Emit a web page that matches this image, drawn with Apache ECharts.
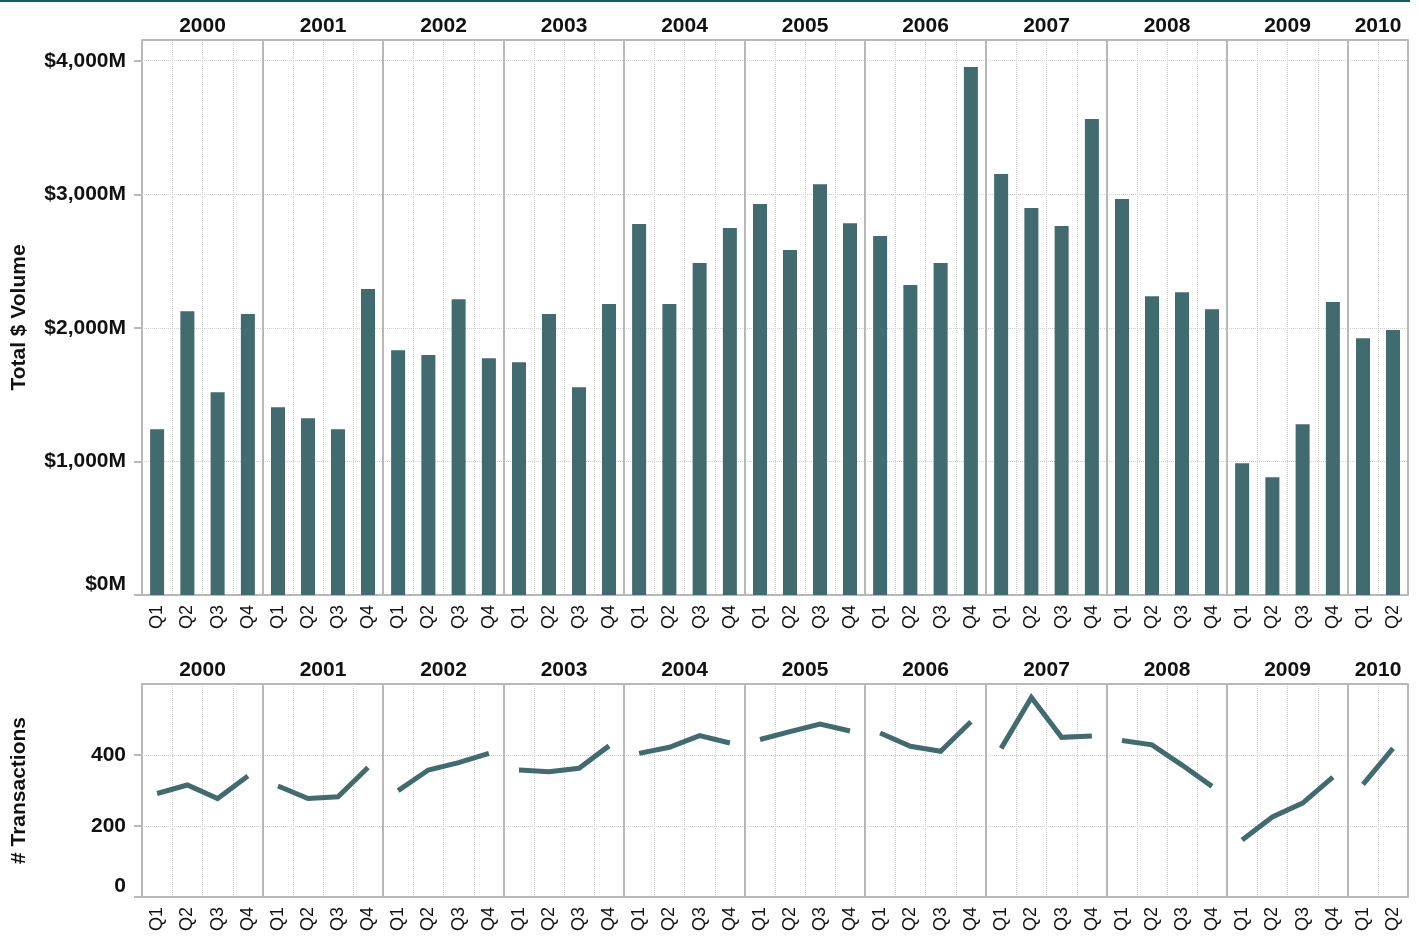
<!DOCTYPE html>
<html>
<head>
<meta charset="utf-8">
<script src="https://cdn.jsdelivr.net/npm/echarts@6/dist/echarts.min.js"></script>
<style>
  html, body { margin: 0; padding: 0; background: #fff; }
  #chart { width: 1419px; height: 936px; }
</style>
</head>
<body>
<div id="chart"></div>
<script>
// data, quarter by quarter from 2000 Q1 to 2010 Q2
const years = ['2000', '2001', '2002', '2003', '2004', '2005', '2006', '2007', '2008', '2009', '2010'];
const quarterCounts = [4, 4, 4, 4, 4, 4, 4, 4, 4, 4, 2];
const quarterLabels = ['Q1', 'Q2', 'Q3', 'Q4'];
const volumeTicks = [0, 1000, 2000, 3000, 4000];
const transactionTicks = [0, 200, 400];

// total $ volume, millions
const volume = [
  1241, 2125, 1518, 2103,
  1406, 1324, 1241, 2290,
  1833, 1796, 2215, 1773,
  1743, 2103, 1556, 2178,
  2777, 2178, 2485, 2747,
  2927, 2582, 3076, 2784,
  2687, 2320, 2485, 3953,
  3151, 2897, 2762, 3563,
  2964, 2237, 2267, 2140,
  987, 882, 1279, 2193,
  1923, 1983
];

// number of transactions
const transactions = [
  291, 315, 277, 340,
  312, 277, 282, 364,
  299, 357, 378, 404,
  357, 352, 362, 425,
  404, 421, 454, 433,
  443, 465, 486, 467,
  461, 424, 410, 493,
  418, 561, 449, 453,
  440, 428, 371, 311,
  160, 225, 264, 337,
  317, 418
];

const TEAL = '#416b6e';
const LINE_SOLID = '#b8b8b8';
const LINE_DOT = '#d0d0d0';
const FONT = '"Liberation Sans", Arial, sans-serif';

const plotLeft = 142;
const plotWidth = 1266;
const qw = plotWidth / quarterCounts.reduce((a, b) => a + b, 0);

const panels = [
  {
    top: 40, height: 555, max: 4155, ticks: volumeTicks, values: volume, kind: 'bar',
    name: 'Total $ Volume',
    fmt: v => '$' + v.toLocaleString('en-US') + 'M'
  },
  {
    top: 684, height: 213, max: 599, ticks: transactionTicks, values: transactions, kind: 'line',
    name: '# Transactions',
    fmt: v => String(v)
  }
];

const grid = [], xAxis = [], yAxis = [], series = [];

panels.forEach(p => {
  let start = 0;
  years.forEach((year, k) => {
    const n = quarterCounts[k];
    const first = k === 0;
    const g = grid.length;
    const left = Math.round(plotLeft + start * qw);
    const right = Math.round(plotLeft + (start + n) * qw);
    grid.push({ left: left, top: p.top, width: right - left, height: p.height });

    // quarters along the bottom
    const xq = xAxis.length;
    xAxis.push({
      type: 'category', gridIndex: g, position: 'bottom', z: 0,
      data: quarterLabels.slice(0, n),
      axisLine: { lineStyle: { color: LINE_SOLID, width: 2 } },
      axisTick: { length: 7, lineStyle: { color: LINE_SOLID, width: 2 } },
      axisLabel: { interval: 0, rotate: 90, margin: 10, fontFamily: FONT, fontSize: 18, color: '#111' },
      splitLine: { show: true, lineStyle: { color: LINE_DOT, type: [1, 1] } }
    });
    // year header on top, its split lines frame the pane
    xAxis.push({
      type: 'category', gridIndex: g, position: 'top', z: 1,
      data: [year],
      axisLine: { lineStyle: { color: LINE_SOLID, width: 2 } },
      axisTick: { length: 33, lineStyle: { color: LINE_SOLID, width: 2 } },
      axisLabel: { margin: 3, fontFamily: FONT, fontSize: 21, fontWeight: 'bold', color: '#111' },
      splitLine: { show: true, lineStyle: { color: LINE_SOLID, width: 2 } }
    });
    // long year ticks through the quarter labels
    xAxis.push({
      type: 'category', gridIndex: g, position: 'bottom', z: 1,
      data: [year],
      axisLine: { show: false },
      axisTick: { length: 40, lineStyle: { color: LINE_SOLID, width: 2 } },
      axisLabel: { show: false },
      splitLine: { show: false }
    });

    yAxis.push({
      type: 'value', gridIndex: g, min: 0, max: p.max, interval: p.ticks[1], z: 0,
      axisLine: { show: false },
      axisTick: { show: first, length: 8, customValues: p.ticks, lineStyle: { color: LINE_SOLID, width: 2 } },
      axisLabel: {
        show: first, customValues: p.ticks, margin: 16, formatter: p.fmt,
        verticalAlignMinLabel: 'bottom',
        fontFamily: FONT, fontSize: 21, fontWeight: 'bold', color: '#111'
      },
      splitLine: { show: true, lineStyle: { color: LINE_DOT, type: [1, 1] } },
      name: first ? p.name : '',
      nameLocation: 'middle',
      nameGap: 112,
      nameTextStyle: { fontFamily: FONT, fontSize: 21, fontWeight: 'bold', color: '#111' }
    });

    const vals = p.values.slice(start, start + n);
    if (p.kind === 'bar') {
      series.push({
        type: 'bar', xAxisIndex: xq, yAxisIndex: g, data: vals,
        barWidth: 14, itemStyle: { color: TEAL }, silent: true
      });
    } else {
      series.push({
        type: 'line', xAxisIndex: xq, yAxisIndex: g, data: vals,
        symbol: 'none', silent: true,
        lineStyle: { color: TEAL, width: 5, cap: 'butt', join: 'miter' }
      });
    }
    start += n;
  });
});

const chart = echarts.init(document.getElementById('chart'));
chart.setOption({
  animation: false,
  backgroundColor: '#fff',
  graphic: [{ type: 'rect', left: 0, top: 0, shape: { width: 1410, height: 2 }, style: { fill: '#0e6464' } }],
  grid: grid,
  xAxis: xAxis,
  yAxis: yAxis,
  series: series
});
</script>
</body>
</html>
